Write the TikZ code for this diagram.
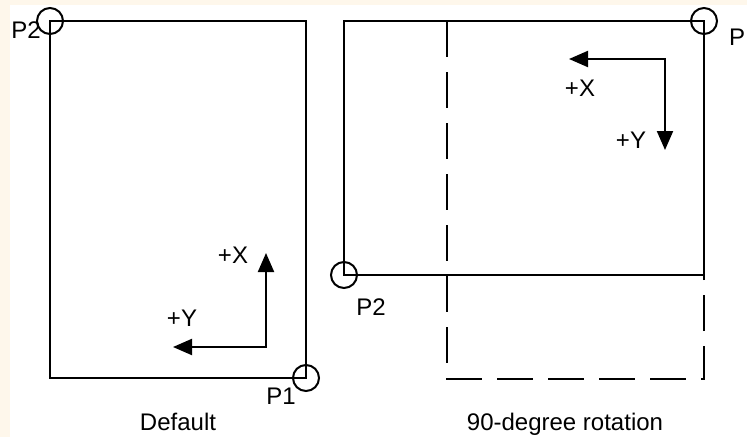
\documentclass[tikz,border=0pt]{standalone}
\usepackage{fontspec}
\setmainfont{Liberation Sans}
\usetikzlibrary{positioning,arrows.meta}
\definecolor{paperclr}{RGB}{254,247,235}
\tikzset{
  frame/.style={line width=2pt},
  ghost/.style={frame,dash pattern=on 36pt off 15pt},
  pin/.style={circle,draw,line width=2pt,minimum size=26pt,inner sep=0pt},
  axis/.style={{Triangle[length=19pt,width=16pt]}-{Triangle[length=19pt,width=16pt]},
               line width=2pt},
  lbl/.style={font=\fontsize{24}{28}\selectfont,inner sep=0pt},
  caption/.style={lbl,anchor=base},
}
\begin{document}
\begin{tikzpicture}[x=1pt,y=-1pt]
\fill[paperclr] (0,0) rectangle (747,437);
\fill[white] (10,5) rectangle (747,437);
\useasboundingbox (0,0) rectangle (747,437);

% default page
\coordinate (dtl) at (50,21);
\coordinate (dbr) at (306,378);
\draw[frame] (dtl) rectangle (dbr);
\node[pin] (dp2) at (dtl) {};
\node[pin] (dp1) at (dbr) {};
\node[lbl] (dp2l) at (26,30) {P2};
\node[lbl] (dp1l) at (281,396) {P1};

\coordinate (dorg) at (266,347);
\coordinate (dxtip) at (266,253);
\coordinate (dytip) at (173,347);
\draw[axis] (dxtip) -- (dorg) -- (dytip);
\node[lbl] (dxl) at (233,255) {+X};
\node[lbl] (dyl) at (182,318) {+Y};
\node[caption] (dcap) at (178,430) {Default};

% rotated page
\coordinate (rtl) at (344,21);
\coordinate (rbr) at (704,275);
\coordinate (gtl) at (447,21);
\coordinate (gbr) at (704,379);
\draw[ghost] (gtl) rectangle (gbr);
\draw[frame] (rtl) rectangle (rbr);
\node[pin] (rp2) at (rtl |- rbr) {};
\node[pin] (rp1) at (rbr |- rtl) {};
\node[lbl] (rp2l) at (371,307) {P2};
\node[lbl] (rp1l) at (737,37) {P};

\coordinate (rorg) at (665,59);
\coordinate (rxtip) at (569,59);
\coordinate (rytip) at (665,150);
\draw[axis] (rxtip) -- (rorg) -- (rytip);
\node[lbl] (rxl) at (580,88) {+X};
\node[lbl] (ryl) at (631,140) {+Y};
\node[caption] (rcap) at (565,430) {90-degree rotation};
\end{tikzpicture}
\end{document}
